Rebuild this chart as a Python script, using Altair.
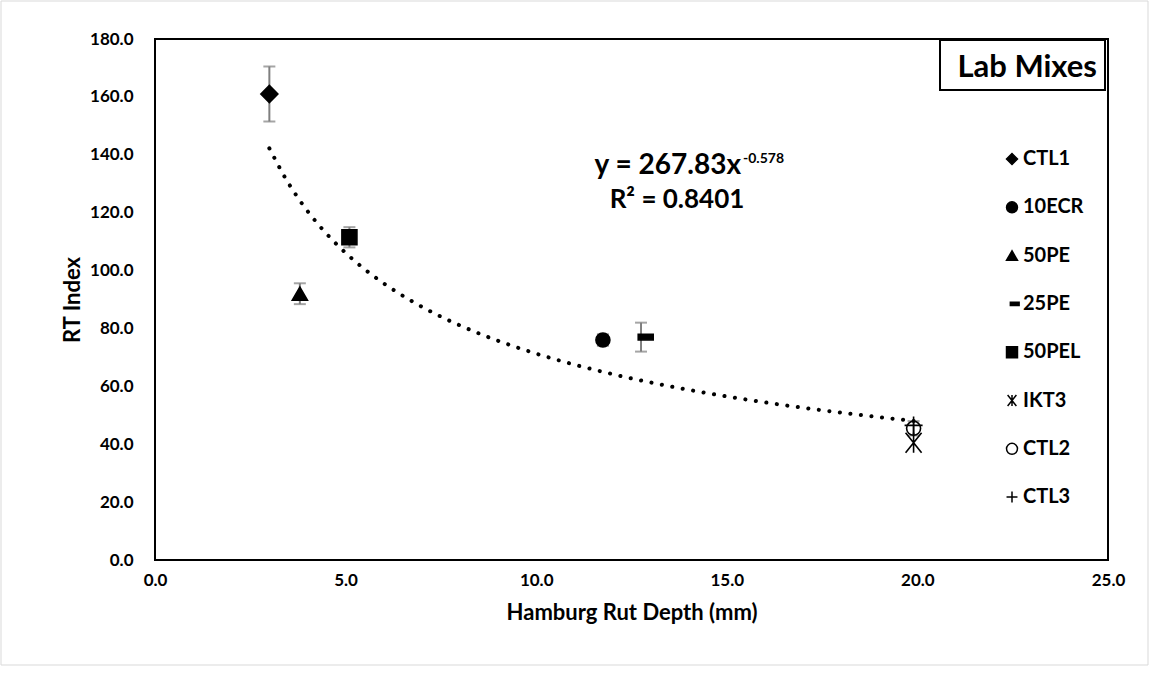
import altair as alt
import pandas as pd

# ---- data ----
series = ["CTL1", "10ECR", "50PE", "25PE", "50PEL", "IKT3", "CTL2", "CTL3"]
rut_depth = [3.0, 11.75, 3.8, 12.75, 5.1, 19.9, 19.9, 19.9]
rt_index = [161.0, 76.0, 92.0, 77.0, 111.5, 40.5, 45.5, 46.5]
rt_err = [9.5, 2.0, 3.6, 5.0, 3.5, 0.0, 2.5, 0.0]
x_ticks = [0, 5, 10, 15, 20, 25]
y_ticks = [0, 20, 40, 60, 80, 100, 120, 140, 160, 180]

# ---- styles ----
FONT = "Lato"
shape_range = [
    "diamond",
    "circle",
    "triangle-up",
    "M-0.3,-0.3L1.3,-0.3L1.3,0.3L-0.3,0.3Z",
    "square",
    "M-0.8,-1L0.8,1M0.8,-1L-0.8,1M0,-1L0,1",
    "circle",
    "M-1,0L1,0M0,-1L0,1",
]
fill_range = ["black", "black", "black", "black", "black", "transparent", "transparent", "transparent"]
stroke_range = ["black"] * 8
marker_size = {"CTL1": 289, "10ECR": 196, "50PE": 230, "25PE": 350, "50PEL": 225,
               "IKT3": 400, "CTL2": 196, "CTL3": 324}

df = pd.DataFrame({"series": series, "x": rut_depth, "y": rt_index, "err": rt_err})
df["lo"] = df["y"] - df["err"]
df["hi"] = df["y"] + df["err"]
df["msize"] = df["series"].map(marker_size)
err_df = df[df["err"] > 0]

xscale = alt.Scale(domain=[0, 25], nice=False, zero=False)
yscale = alt.Scale(domain=[0, 180], nice=False)

xaxis = alt.Axis(values=x_ticks, format=".1f", title="Hamburg Rut Depth (mm)",
                 labelPadding=12, titlePadding=14, labelFlush=False)
yaxis = alt.Axis(values=y_ticks, format=".1f", title="RT Index",
                 labelPadding=22, titlePadding=5, labelFlush=False)

X = alt.X("x:Q", scale=xscale, axis=xaxis)
Y = alt.Y("y:Q", scale=yscale, axis=yaxis)

ERR_COLOR = "#7f7f7f"
bars = alt.Chart(err_df).mark_rule(color=ERR_COLOR, strokeWidth=2).encode(
    x=X, y=alt.Y("lo:Q", scale=yscale, axis=yaxis), y2="hi:Q")
cap_lo = alt.Chart(err_df).mark_tick(color=ERR_COLOR, orient="horizontal", size=12, thickness=2).encode(
    x=X, y=alt.Y("lo:Q", scale=yscale))
cap_hi = alt.Chart(err_df).mark_tick(color=ERR_COLOR, orient="horizontal", size=12, thickness=2).encode(
    x=X, y=alt.Y("hi:Q", scale=yscale))

trend = alt.Chart(df).transform_regression("x", "y", method="pow").mark_line(
    color="black", strokeWidth=4, strokeDash=[0.1, 10.5], strokeCap="round").encode(x=X, y=Y)

leg = alt.Legend(title=None, orient="none", legendX=847, legendY=110, padding=0,
                 labelFontSize=20, labelFontWeight="bold", labelFont=FONT, labelColor="black",
                 symbolSize=120, symbolStrokeWidth=1.5, rowPadding=28.3, labelOffset=1)

points = alt.Chart(df).mark_point(opacity=1, strokeWidth=1.6).encode(
    x=X, y=Y,
    shape=alt.Shape("series:N", scale=alt.Scale(domain=series, range=shape_range), legend=leg),
    fill=alt.Fill("series:N", scale=alt.Scale(domain=series, range=fill_range), legend=leg),
    stroke=alt.Stroke("series:N", scale=alt.Scale(domain=series, range=stroke_range), legend=leg),
    size=alt.Size("msize:Q", scale=None, legend=None),
)

one = pd.DataFrame({"a": [0]})
eq_main = alt.Chart(one).mark_text(text="y = 267.83x", font=FONT, fontSize=28, fontWeight="bold",
                                   align="right", baseline="middle", color="black").encode(
    x=alt.value(586), y=alt.value(127))
eq_sup = alt.Chart(one).mark_text(text="-0.578", font=FONT, fontSize=14, fontWeight="bold",
                                  align="left", baseline="middle", color="black").encode(
    x=alt.value(588), y=alt.value(120))
eq_r2 = alt.Chart(one).mark_text(text="R² = 0.8401", font=FONT, fontSize=26, fontWeight="bold",
                                 align="center", baseline="middle", color="black").encode(
    x=alt.value(522), y=alt.value(161))

lab_box = alt.Chart(one).mark_rect(fill="white", stroke="black", strokeWidth=2).encode(
    x=alt.value(785), x2=alt.value(950), y=alt.value(1), y2=alt.value(51))
lab_text = alt.Chart(one).mark_text(text="Lab Mixes", font=FONT, fontSize=31, fontWeight="bold",
                                    align="right", baseline="alphabetic", color="black").encode(
    x=alt.value(942), y=alt.value(38))

outer = alt.Chart(one).mark_rect(fillOpacity=0, stroke="#d9d9d9", strokeWidth=1).encode(
    x=alt.value(-154), x2=alt.value(993), y=alt.value(-38), y2=alt.value(626))

chart = alt.layer(outer, bars, cap_lo, cap_hi, trend, points, eq_main, eq_sup, eq_r2,
                  lab_box, lab_text).properties(
    width=953, height=521,
    autosize=alt.AutoSizeParams(type="none"),
    padding={"left": 155, "top": 39, "right": 43, "bottom": 117},
    background="white",
).configure_view(stroke="black", strokeWidth=2).configure_axis(
    grid=False, ticks=False, domain=False,
    labelFont=FONT, labelFontSize=17, labelFontWeight="bold", labelColor="black",
    titleFont=FONT, titleFontSize=22, titleFontWeight="bold", titleColor="black",
)

chart.save("out.html", embed_options={"renderer": "svg", "actions": False})
